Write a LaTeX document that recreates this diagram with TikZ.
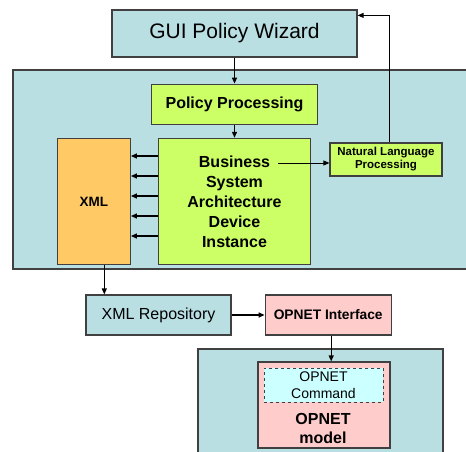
\documentclass[tikz,border=0pt]{standalone}
\usepackage{fontspec}
\setmainfont{Liberation Sans}
\usetikzlibrary{arrows.meta, positioning}

\definecolor{paleblue}{RGB}{185,223,227}
\definecolor{limegreen}{RGB}{204,255,102}
\definecolor{paleorange}{RGB}{255,201,102}
\definecolor{palepink}{RGB}{255,204,204}
\definecolor{palecyan}{RGB}{204,255,255}
\definecolor{edgegray}{RGB}{64,64,64}

\begin{document}
\begin{tikzpicture}[x=1pt, y=-1pt, node distance=20pt,
    box/.style={draw=edgegray, line width=1.2pt, align=center, inner sep=0pt},
    bluebox/.style={box, fill=paleblue},
    greenbox/.style={box, fill=limegreen},
    orangebox/.style={box, fill=paleorange},
    pinkbox/.style={box, fill=palepink},
    panel/.style={draw=edgegray, line width=1.2pt, fill=paleblue},
    arr/.style={-{Triangle[length=6pt,width=5pt]}, line width=1.2pt},
    thinarr/.style={-{Triangle[length=6pt,width=5pt]}, line width=0.8pt}]
    \useasboundingbox (0,0) rectangle (466,452);
    \clip (0,0) rectangle (466,452);

    % panels behind the boxes
    \filldraw[panel] (13,70) rectangle (480,269);
    \filldraw[panel] (198,349) rectangle (443,470);

    \node[bluebox, minimum width=245pt, minimum height=47pt, font=\fontsize{21}{24}\selectfont] (gui) at (234.5,33.5) {GUI Policy Wizard};
    \node[greenbox, below=26pt of gui, minimum width=166pt, minimum height=40pt, font=\bfseries\fontsize{16}{19}\selectfont] (policy) {Policy Processing};
    \node[greenbox, below=13pt of policy, minimum width=152pt, minimum height=126pt, font=\bfseries\fontsize{16}{20}\selectfont] (bsadi) {Business\\System\\Architecture\\Device\\Instance};
    \node[orangebox, left=27pt of bsadi, minimum width=73pt, minimum height=126pt, font=\bfseries\fontsize{13.5}{16}\selectfont] (xml) {XML};
    \node[greenbox, minimum width=112pt, minimum height=33pt, font=\bfseries\fontsize{11.5}{13}\selectfont] (nlp) at (386,159.5) {Natural Language\\Processing};

    \node[bluebox, minimum width=145pt, minimum height=40pt, font=\fontsize{16}{19}\selectfont] (xmlrepo) at (158.5,315) {XML Repository};
    \node[pinkbox, right=33pt of xmlrepo, minimum width=126pt, minimum height=40pt, font=\bfseries\fontsize{13.8}{16}\selectfont] (opif) {OPNET Interface};

    \node[pinkbox, minimum width=132pt, minimum height=86pt] (model) at (324,405) {};
    \node[draw=edgegray, dashed, line width=0.8pt, fill=palecyan, minimum width=119pt, minimum height=34pt, inner sep=0pt, align=center, font=\fontsize{14}{17}\selectfont] (cmd) at (323.5,385) {OPNET\\Command};
    \node[align=center, inner sep=0pt, font=\bfseries\fontsize{16}{19}\selectfont] (modeltxt) at (323,428) {OPNET\\model};

    % connectors
    \draw[arr] (gui) -- (policy);
    \draw[arr] (policy) -- (bsadi);
    \foreach \yy in {156,176,196,216,236}
        \draw[arr] (bsadi.west |- 0,\yy) -- (xml.east |- 0,\yy);
    \coordinate (bsend) at (278,163);
    \draw[thinarr] (bsend) -- (nlp.west |- bsend);
    \draw[thinarr] ([xshift=3pt]nlp.north) |- ([yshift=-6pt]gui.north east);
    \draw[arr] ([xshift=10.5pt]xml.south) -- ([xshift=10.5pt]xml.south |- xmlrepo.north);
    \draw[arr] (xmlrepo) -- (opif);
    \draw[arr] ([xshift=3pt]opif.south) -- ([xshift=3pt]opif.south |- model.north);
\end{tikzpicture}
\end{document}
